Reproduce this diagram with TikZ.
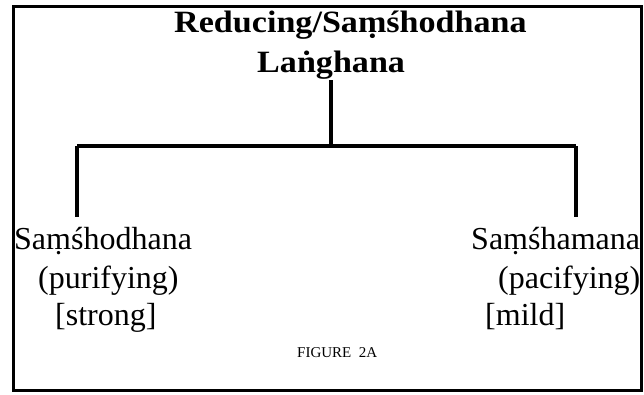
\documentclass[tikz,border=0pt]{standalone}
\usepackage{fontspec}
\setmainfont{Liberation Serif}
\begin{document}
\begin{tikzpicture}
  [x=1pt,y=-1pt,every node/.style={inner sep=0pt,anchor=base west,font=\fontsize{32}{38}\selectfont},
   title/.style={font=\fontsize{31}{36}\bfseries\selectfont,xscale=1.1},
   branch/.style={line width=4pt}]
  \useasboundingbox (0,0) rectangle (644,394);
  \draw[line width=3pt] (13,6) rectangle (641,390);

  \node (t1) at (174,32) [title] {Reducing/Saṃśhodhana};
  \node (t2) at (257,72) [title] {Laṅghana};

  \node (l1) at (14,249) {Saṃśhodhana};
  \node (l2) at (38,288) {(purifying)};
  \node (l3) at (55,325) {[strong]};

  \node (r1) at (471,249) {Saṃśhamana};
  \node (r2) at (498,288) {(pacifying)};
  \node (r3) at (485,325) {[mild]};

  \node (fig) at (297,357) [font=\fontsize{15}{18}\selectfont] {FIGURE\ \ 2A};

  \coordinate (top) at (331,80);
  \coordinate (mid) at (331,146);
  \coordinate (left) at (77,146);
  \coordinate (right) at (576,146);
  \coordinate (leftend) at (77,217);
  \coordinate (rightend) at (576,217);

  \foreach \from/\to in {top/mid, left/right, left/leftend, right/rightend}
    \draw[branch] (\from) -- (\to);

\end{tikzpicture}
\end{document}
